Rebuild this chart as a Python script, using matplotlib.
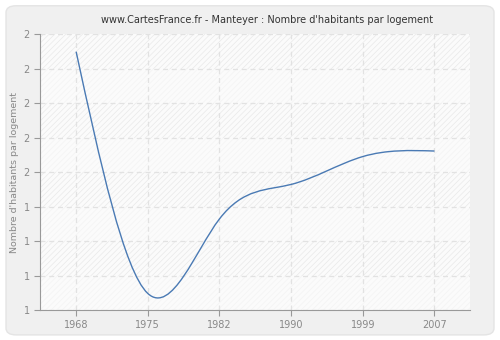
import numpy as np
import matplotlib
matplotlib.use("Agg")
from matplotlib import pyplot as plt
from matplotlib.path import Path
from matplotlib.patches import PathPatch, Rectangle, FancyBboxPatch
from matplotlib.ticker import FuncFormatter

years = ["1968", "1975", "1982", "1990", "1999", "2007"]
values = [1.936, 1.060, 1.330, 1.455, 1.556, 1.576]
y_ticks = [1.0, 1.125, 1.25, 1.375, 1.5, 1.625, 1.75, 1.875, 2.0]

plt.rcParams["hatch.linewidth"] = 0.5
plt.rcParams["font.family"] = "DejaVu Sans"

fig = plt.figure(figsize=(5, 3.4), dpi=100, facecolor="white")
fig.patches.append(FancyBboxPatch((0.012, 0.015), 0.976, 0.968,
                                  boxstyle="round,pad=0,rounding_size=0.02",
                                  transform=fig.transFigure, facecolor="#f0f0f0",
                                  edgecolor="#e4e4e4", linewidth=1.0, zorder=-10))

ax = fig.add_axes([0.0806, 0.0882, 0.86, 0.8118])
ax.set_facecolor("#fbfbfb")
ax.add_patch(Rectangle((0, 0), 1, 1, transform=ax.transAxes, facecolor="none",
                       edgecolor="#e9e9e9", hatch="//////", linewidth=0, zorder=0))
# lighter alternate bands
for i in range(0, len(y_ticks) - 1, 2):
    ax.axhspan(y_ticks[i], y_ticks[i + 1], facecolor="#fbfbfb", alpha=0.6,
               linewidth=0, zorder=0.5)

# natural cubic spline through the census points, drawn as Bezier segments
x = np.arange(len(values))
y = np.array(values)
n = len(y)
A = np.zeros((n, n))
d = np.zeros(n)
A[0, 0] = A[-1, -1] = 1
for i in range(1, n - 1):
    A[i, i - 1], A[i, i], A[i, i + 1] = 1, 4, 1
    d[i] = 6 * (y[i + 1] - 2 * y[i] + y[i - 1])
M = np.linalg.solve(A, d)
m = np.empty(n)
m[:-1] = np.diff(y) - (2 * M[:-1] + M[1:]) / 6
m[-1] = y[-1] - y[-2] + (M[-2] + 2 * M[-1]) / 6

verts = [(x[0], y[0])]
codes = [Path.MOVETO]
for i in range(n - 1):
    verts += [(x[i] + 1 / 3, y[i] + m[i] / 3),
              (x[i + 1] - 1 / 3, y[i + 1] - m[i + 1] / 3),
              (x[i + 1], y[i + 1])]
    codes += [Path.CURVE4] * 3
ax.add_patch(PathPatch(Path(verts, codes), facecolor="none",
                       edgecolor="#4a7ab4", linewidth=1.0, zorder=3))

ax.set_xlim(-0.5, len(years) - 0.5)
ax.set_ylim(1.0, 2.0)
ax.set_xticks(x)
ax.set_xticklabels(years)
ax.set_yticks(y_ticks)
ax.yaxis.set_major_formatter(FuncFormatter(lambda v, p: "%d" % round(v)))

ax.grid(True, color="#e2e2e2", linestyle=(0, (4, 3)), linewidth=0.9)
ax.set_axisbelow(True)
for s in ["top", "right"]:
    ax.spines[s].set_visible(False)
for s in ["left", "bottom"]:
    ax.spines[s].set_color("#999999")
ax.tick_params(colors="#999999", labelcolor="#888888", labelsize=7, length=4, width=0.8)

ax.set_ylabel("Nombre d'habitants par logement", fontsize=6.8, color="#888888", labelpad=3)
fig.suptitle("www.CartesFrance.fr - Manteyer : Nombre d'habitants par logement",
             fontsize=7, color="#333333", y=0.955, x=0.535)

plt.savefig("out.png", dpi=100, facecolor=fig.get_facecolor())
